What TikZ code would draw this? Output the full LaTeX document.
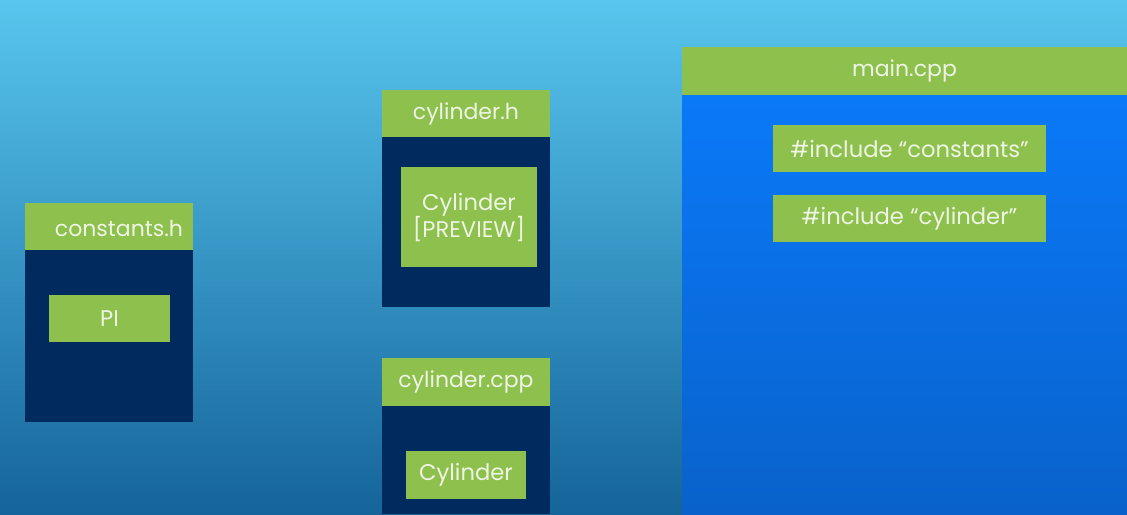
\documentclass[tikz,border=0pt]{standalone}
\usepackage{fontspec}
\setmainfont{Poppins}
\definecolor{grn}{HTML}{8DC04C}
\definecolor{navy}{HTML}{012B5E}
\definecolor{txt}{HTML}{EEF5E4}
\definecolor{bgtop}{HTML}{58C6EE}
\definecolor{bgbot}{HTML}{15649A}
\definecolor{mtop}{HTML}{0A79F8}
\definecolor{mbot}{HTML}{0962CB}
\tikzset{
  hdr/.style={fill=grn, draw=none, inner sep=0pt, text=txt, font=\fontsize{16.5}{18}\selectfont},
  bodybox/.style={fill=navy, draw=none},
  item/.style={fill=grn, draw=none, inner sep=0pt, text=txt, font=\fontsize{17}{20}\selectfont, align=center},
}
\begin{document}
\begin{tikzpicture}[x=0.75pt,y=-0.75pt]
\useasboundingbox (0,0) rectangle (1127,514);
\shade[top color=bgtop, bottom color=bgbot] (0,0) rectangle (1127,514);
% constants.h
\fill[navy] (25,250) rectangle (193,422);
\node[hdr, minimum width=168*0.75pt, minimum height=47*0.75pt] (ch) at (109,226.5) {};
\node[text=txt, font=\fontsize{16.5}{18}\selectfont, inner sep=0pt] (cht) at (119,228.5) {constants.h};
\node[item, minimum width=121*0.75pt, minimum height=47*0.75pt] (pi) at (109.5,318.5) {PI};
% cylinder.h
\fill[navy] (382,137) rectangle (550,307);
\node[hdr, minimum width=168*0.75pt, minimum height=47*0.75pt] (cyh) at (466,113.5) {cylinder.h};
\node[item, minimum width=136*0.75pt, minimum height=100*0.75pt] (cylp) at (469,217) {Cylinder\\[-1pt][PREVIEW]};
% cylinder.cpp
\fill[navy] (382,406) rectangle (550,514);
\node[hdr, minimum width=168*0.75pt, minimum height=48*0.75pt] (cyc) at (466,382) {cylinder.cpp};
\node[item, minimum width=120*0.75pt, minimum height=48*0.75pt] (cyl) at (466,475) {Cylinder};
% main.cpp
\shade[top color=mtop, bottom color=mbot] (682,95) rectangle (1127,514);
\node[hdr, minimum width=445*0.75pt, minimum height=48*0.75pt] (mc) at (904.5,71) {main.cpp};
\node[item, minimum width=273*0.75pt, minimum height=47*0.75pt] (inc1) at (909.5,148.5) {\#include “constants”};
\node[item, minimum width=273*0.75pt, minimum height=47*0.75pt] (inc2) at (909.5,218.5) {\#include “cylinder”};
\end{tikzpicture}
\end{document}
